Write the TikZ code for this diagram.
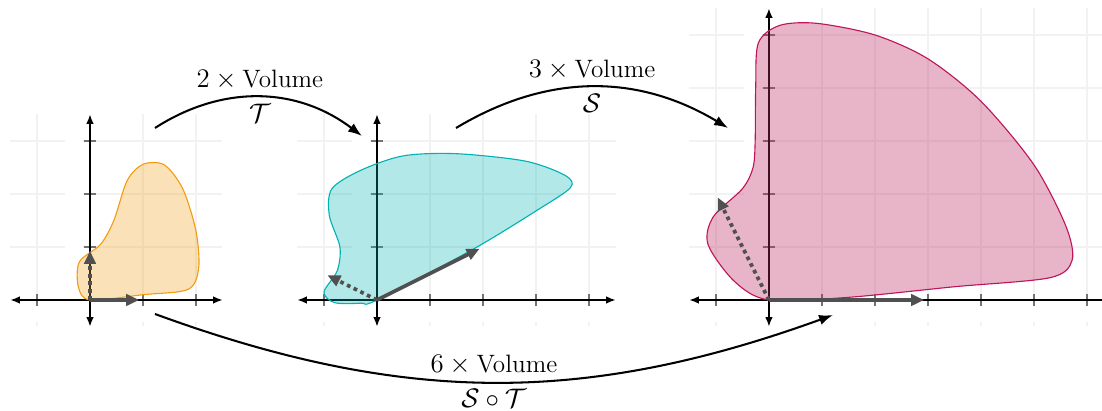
\documentclass[tikz,border=0pt]{standalone}
\usetikzlibrary{arrows.meta}
\definecolor{BlobOrange}{RGB}{243,156,18}
\definecolor{BlobTeal}{RGB}{0,178,178}
\definecolor{BlobMagenta}{RGB}{189,41,95}
\definecolor{LineMagenta}{RGB}{190,20,90}
\definecolor{VecGray}{RGB}{80,80,80}
\definecolor{GridGray}{RGB}{242,242,242}

\begin{document}
\begin{tikzpicture}[
  every node/.style={font=\fontsize{13.5}{16}\selectfont},
  gridline/.style={GridGray, line width=0.6pt},
  axisline/.style={black, line width=0.7pt, {Latex[length=5pt,width=4pt]}-{Latex[length=5pt,width=4pt]}},
  tickline/.style={black!55, line width=0.6pt},
  blob/.style={draw=#1, fill=#1, fill opacity=0.3, line width=0.6pt},
  vecsolid/.style={VecGray, line width=2pt, -{Triangle[length=7pt,width=6pt]}, shorten >=2pt},
  vecdotted/.style={vecsolid, dotted},
  maparrow/.style={black, line width=1.1pt, -{Latex[length=7.5pt,width=5.5pt]}}
]
  \useasboundingbox (-1.698,-2.094) rectangle (19.094,5.660);
  \clip (-1.698,-2.094) rectangle (19.094,5.660);

  % grids, ticks and axes of the three panels
  \foreach \ox/\xmax/\ymax/\xs/\ys in {0/2.5/3.5/{-1,1,2}/{1,2,3},
      5.415/4.5/3.5/{-1,1,2,3,4}/{1,2,3},
      12.81/6.5/5.5/{-1,1,2,3,4,5,6}/{1,2,3,4,5}} {
    \begin{scope}[xshift=\ox cm]
      \foreach \gx in \xs {
        \draw[gridline] (\gx,-0.5) -- (\gx,-0.42) (\gx,-0.12) -- (\gx,\ymax);
        \draw[tickline] (\gx,-0.12) -- (\gx,0.12);
      }
      \foreach \gy in \ys {
        \draw[gridline] (-1.5,\gy) -- (-0.47,\gy) (-0.13,\gy) -- (\xmax,\gy);
        \draw[tickline] (-0.12,\gy) -- (0.12,\gy);
      }
      \draw[axisline] (-1.5,0) -- (\xmax,0);
      \draw[axisline] (0,-0.5) -- (0,\ymax);
    \end{scope}
  }

  % original region
  \begin{scope}
    \coordinate (O1) at (0,0);
    \filldraw[blob=BlobOrange] plot[smooth cycle] coordinates {(0,0) (1.0,0.1) (1.85,0.2) (2.05,0.6) (2.0,1.3) (1.75,2.1) (1.4,2.55) (1.0,2.56) (0.7,2.25) (0.45,1.5) (0.2,1.05) (-0.2,0.72) (-0.22,0.25)};
    \draw[vecdotted] (O1) -- (0,1);
    \draw[vecsolid] (O1) -- (1,0);
  \end{scope}

  % image under T
  \begin{scope}[xshift=5.415cm]
    \coordinate (O2) at (0,0);
    \filldraw[blob=BlobTeal] plot[smooth cycle] coordinates {(0,0) (1.8,0.95) (3.0,1.68) (3.65,2.12) (3.55,2.35) (2.8,2.62) (1.5,2.76) (0.5,2.72) (-0.3,2.45) (-0.85,2.1) (-0.9,1.6) (-0.7,1.0) (-0.75,0.55) (-1.0,0.15) (-0.8,-0.05) (-0.3,-0.06)};
    \draw[vecdotted] (O2) -- (-1,0.5);
    \draw[vecsolid] (O2) -- (2,1);
  \end{scope}

  % image under S o T
  \begin{scope}[xshift=12.81cm]
    \coordinate (O3) at (0,0);
    \filldraw[blob=BlobMagenta, draw=LineMagenta, fill opacity=0.35] plot[smooth cycle] coordinates {(0,0) (1.5,0.05) (3.5,0.25) (5.3,0.42) (5.72,0.75) (5.6,1.4) (5.0,2.55) (4.0,3.75) (3.0,4.55) (2.0,5.0) (0.9,5.22) (0.2,5.18) (-0.2,4.85) (-0.25,4.0) (-0.26,3.0) (-0.3,2.5) (-0.5,2.1) (-1.05,1.57) (-1.15,1.05) (-0.65,0.35)};
    \draw[vecdotted] (O3) -- (-1,2);
    \draw[vecsolid] (O3) -- (3,0);
  \end{scope}

  % maps between the panels
  \coordinate (tStart) at (1.226,3.245);
  \coordinate (tEnd) at (5.132,3.094);
  \coordinate (sStart) at (6.906,3.245);
  \coordinate (sEnd) at (12.04,3.245);
  \coordinate (stStart) at (1.226,-0.264);
  \coordinate (stEnd) at (14.02,-0.283);
  \draw[maparrow] (tStart) to[bend left=35] node[above] {$2\times\mbox{Volume}$} node[below] {$\mathcal{T}$} (tEnd);
  \draw[maparrow] (sStart) to[bend left=31] node[above] {$3\times\mbox{Volume}$} node[below] {$\mathcal{S}$} (sEnd);
  \draw[maparrow] (stStart) to[bend right=20] node[above] {$6\times\mbox{Volume}$} node[below] {$\mathcal{S}\circ\mathcal{T}$} (stEnd);
\end{tikzpicture}
\end{document}
